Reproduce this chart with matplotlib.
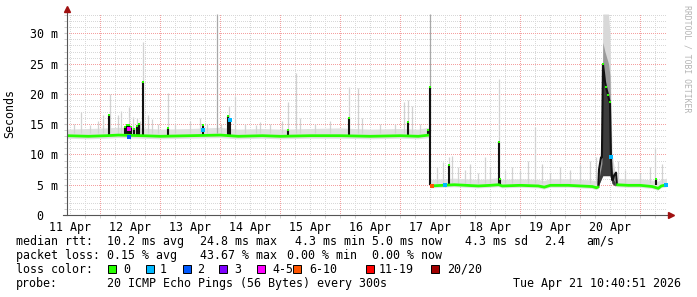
import matplotlib
matplotlib.use("Agg")
import matplotlib.pyplot as plt
from matplotlib.patches import Rectangle
import numpy as np

W, H = 697, 297
MONO = "DejaVu Sans Mono"

# x axis: days since 11 Apr 00:00 (window 11 Apr 10:40 -> 21 Apr 10:40)
x_start, x_end = 0.445, 10.445
y_top = 33.2

day_labels = ["11 Apr", "12 Apr", "13 Apr", "14 Apr", "15 Apr",
              "16 Apr", "17 Apr", "18 Apr", "19 Apr", "20 Apr"]
y_ticks = [0, 5, 10, 15, 20, 25, 30]
y_labels = ["0  ", "5 m", "10 m", "15 m", "20 m", "25 m", "30 m"]

# median rtt (ms) with smoke envelope; nan breaks the line
base_t = [0.445, 0.8, 1.1, 1.3, 1.7, 2.0, 2.5, 3.0, 3.3, 3.7, 4.0, 4.5, 5.0,
          5.5, 6.0, 6.3, 6.48, np.nan,
          6.51, 6.7, 6.9, 7.1, 7.3, 7.5, 7.64, 7.7, 8.0, 8.3, 8.4, 8.5, 8.8,
          9.0, 9.2, 9.27, 9.31, np.nan,
          9.6, 9.8, 10.0, 10.2, 10.3, 10.35, 10.445]
base_med = [13.1, 13.0, 13.1, 13.2, 13.1, 13.0, 13.1, 13.2, 13.0, 13.1, 13.0, 13.1, 13.1,
            13.0, 13.1, 13.0, 13.2, np.nan,
            4.8, 4.9, 5.0, 4.9, 4.8, 4.9, 5.0, 4.8, 4.9, 4.8, 4.6, 4.9, 4.9,
            4.8, 4.7, 4.5, 4.7, np.nan,
            5.0, 4.9, 4.9, 4.7, 4.4, 4.8, 5.0]
base_lo = [12.6, 12.5, 12.6, 12.7, 12.6, 12.5, 12.6, 12.7, 12.5, 12.6, 12.5, 12.6, 12.6,
           12.5, 12.6, 12.5, 12.7, np.nan,
           4.4, 4.5, 4.6, 4.5, 4.4, 4.5, 4.6, 4.4, 4.5, 4.4, 4.2, 4.5, 4.5,
           4.4, 4.3, 4.1, 4.3, np.nan,
           4.6, 4.5, 4.5, 4.3, 4.0, 4.4, 4.6]
base_hi = [14.1, 14.2, 14.3, 14.4, 14.3, 14.1, 14.2, 14.4, 14.1, 14.2, 14.1, 14.2, 14.3,
           14.1, 14.2, 14.1, 14.4, np.nan,
           5.8, 5.9, 6.0, 5.9, 5.8, 5.9, 6.1, 5.8, 5.9, 5.8, 5.6, 5.9, 5.9,
           5.8, 5.7, 5.6, 5.7, np.nan,
           6.0, 5.9, 5.9, 5.7, 5.5, 5.8, 6.0]

# median spikes: time, from, peak (ms)
spike_t = [1.145, 1.412, 1.445, 1.478, 1.512, 1.562, 1.612, 1.645, 1.712, 2.128,
           2.712, 3.128, 3.162, 4.128, 5.145, 6.128, 6.462, 6.495, 6.812, 7.645,
           7.662, 10.262]
spike_from = [13.1, 13.1, 13.1, 13.1, 13.1, 13.1, 13.1, 13.1, 13.1, 13.1,
              13.1, 13.1, 13.1, 13.1, 13.1, 13.1, 13.1, 4.9, 5.0, 5.0,
              5.0, 5.0]
spike_peak = [16.6, 14.5, 14.8, 14.8, 14.5, 14.2, 14.7, 15.0, 22.0, 14.4,
              14.9, 16.3, 15.5, 14.1, 16.1, 15.4, 14.1, 21.1, 8.3, 12.1,
              6.0, 6.0]

# smoke (max ping) spikes: time, from, top (ms)
smoke_t = [0.562, 0.678, 0.828, 0.962, 1.045, 1.16, 1.295, 1.345, 1.478, 1.545,
           1.612, 1.662, 1.712, 1.795, 1.862, 1.962, 2.128, 2.245, 2.495, 2.662,
           2.778, 2.945, 3.012, 3.145, 3.245, 3.412, 3.595, 3.662, 3.828, 4.028,
           4.128, 4.262, 4.328, 4.578, 4.828, 5.145, 5.295, 5.362, 5.662, 5.912,
           6.062, 6.128, 6.195, 6.328, 6.495,
           6.612, 6.712, 6.812, 6.862, 6.962, 7.078, 7.162, 7.295, 7.412, 7.495,
           7.645, 7.745, 7.862, 7.995, 8.128, 8.245, 8.362, 8.495, 8.662, 8.828,
           8.995, 9.162, 9.262, 9.628, 9.745, 9.995, 10.162, 10.245, 10.362]
smoke_from = [13.5] * 45 + [5.3] * 29
smoke_top = [15.0, 17.0, 14.8, 15.5, 16.5, 20.0, 16.5, 17.2, 17.9, 16.2,
             16.0, 15.5, 28.5, 16.5, 15.8, 15.0, 20.1, 15.0, 15.5, 16.0,
             15.0, 33.2, 15.0, 18.0, 19.6, 15.0, 14.8, 15.3, 15.0, 15.5,
             18.6, 23.5, 16.0, 15.0, 15.5, 21.2, 21.0, 16.0, 15.0, 15.0,
             18.6, 19.0, 18.0, 15.0, 33.2,
             8.0, 8.8, 9.5, 9.8, 8.0, 7.5, 8.5, 7.0, 9.5, 8.0,
             22.5, 7.5, 8.0, 7.5, 9.0, 14.6, 8.5, 7.0, 8.0, 7.5,
             8.5, 9.0, 9.5, 9.0, 7.5, 7.0, 8.0, 11.0, 8.5]

# 20 Apr latency event: ping distribution bands
event_t = [9.30, 9.33, 9.36, 9.375, 9.41, 9.44, 9.47, 9.495, 9.51, 9.53, 9.58]
event_lo = [4.8, 5.5, 6.2, 6.5, 6.5, 6.5, 6.5, 6.5, 6.0, 5.2, 4.8]
event_q1 = [5.4, 7.0, 8.5, 24.0, 22.0, 20.5, 19.5, 18.6, 9.5, 6.2, 5.4]
event_q2 = [5.8, 8.0, 10.0, 28.5, 27.0, 26.0, 25.0, 23.0, 13.0, 7.5, 6.0]
event_hi = [6.3, 10.0, 12.0, 33.2, 33.2, 33.2, 33.2, 30.0, 19.0, 10.0, 7.0]
event_med_t = [9.30, 9.312, 9.345, 9.36, 9.378, 9.395, 9.412, 9.428, 9.445, 9.462,
               9.478, 9.495, 9.51, 9.53, 9.545, 9.562, 9.595, 9.61]
event_med = [4.7, 7.5, 9.5, 9.5, 24.9, 23.5, 22.0, 21.2, 20.5, 19.9,
             19.1, 18.6, 9.6, 5.8, 5.8, 6.5, 7.0, 5.0]

# points with packet loss: time, rtt, lost pings
loss_t = [1.478, 1.47, 2.712, 3.162, 6.75, 6.53, 9.512, 10.42]
loss_v = [14.2, 12.9, 14.0, 15.7, 5.0, 4.8, 9.6, 4.9]
loss_n = [4, 2, 1, 1, 1, 8, 1, 1]

loss_names = ["0", "1", "2", "3", "4-5", "6-10", "11-19", "20/20"]
loss_upper = [0, 1, 2, 3, 5, 10, 19, 20]
loss_colors = ["#26ff00", "#00b8ff", "#0059ff", "#7e00ff",
               "#ff00ff", "#ff5500", "#ff0000", "#a00000"]


def loss_color(n):
    for up, c in zip(loss_upper, loss_colors):
        if n <= up:
            return c
    return loss_colors[-1]


fig = plt.figure(figsize=(W / 100, H / 100), dpi=100)
ax = fig.add_axes([67 / W, 1 - 215 / H, 600 / W, 201 / H])
ax.set_xlim(x_start, x_end)
ax.set_ylim(0, y_top)
for s in ax.spines.values():
    s.set_visible(False)

# dotted grid, 1px dots
grid_kw = dict(lw=0.72, ls=(0, (1, 1.4)), antialiased=False)
for d in np.arange(0.5, 10.45, 0.25):
    if abs(d - round(d)) > 0.01:
        ax.axvline(d, color="#d8d8d8", zorder=0, **grid_kw)
for v in range(1, 34):
    if v % 5:
        ax.axhline(v, color="#d8d8d8", zorder=0, **grid_kw)
for d in range(1, 11):
    ax.axvline(d, color="#f4a0a0", zorder=0.5, **grid_kw)
for v in range(5, 35, 5):
    ax.axhline(v, color="#f4a0a0", zorder=0.5, **grid_kw)

# smoke
ax.fill_between(base_t, base_lo, base_hi, color="#e0e0e0", lw=0, zorder=1)
for t, f, top in zip(smoke_t, smoke_from, smoke_top):
    c = "#a8a8a8" if top >= y_top else "#d2d2d2"
    ax.vlines(t, f, top, color=c, lw=0.9, zorder=1.2)
ax.fill_between(event_t, event_lo, event_hi, color="#d8d8d8", lw=0, zorder=1.3)
ax.fill_between(event_t, event_lo, event_q2, color="#9a9a9a", lw=0, zorder=1.4)
ax.fill_between(event_t, event_lo, event_q1, color="#3c3c3c", lw=0, zorder=1.5)

# median
ax.vlines(spike_t, spike_from, spike_peak, color="#111111", lw=1.5, zorder=2)
ax.plot(event_med_t, event_med, color="#111111", lw=1.5, zorder=2.1)
ax.plot(base_t, base_med, color=loss_colors[0], lw=2.0, zorder=3,
        solid_capstyle="butt")
ax.plot(spike_t, spike_peak, ls="none", marker="s", ms=2.0, mew=0,
        color=loss_colors[0], zorder=3.1)
ev_dots = [4, 7, 9, 11]
ax.plot([event_med_t[i] for i in ev_dots], [event_med[i] for i in ev_dots],
        ls="none", marker="s", ms=2.0, mew=0, color=loss_colors[0], zorder=3.1)
for t, v, n in zip(loss_t, loss_v, loss_n):
    ax.plot(t, v, ls="none", marker="s", ms=2.2, mew=0, color=loss_color(n),
            zorder=3.2)

# axes lines with arrows
ax.plot([x_start, x_start], [0, 33.9], color="#555555", lw=0.8, clip_on=False, zorder=4)
ax.plot([x_start - 0.07, 10.5], [0, 0], color="#555555", lw=0.8, clip_on=False, zorder=4)
ax.plot(x_start, 34.0, marker="^", ms=4, color="#a01010", clip_on=False, zorder=5)
ax.plot(10.52, 0, marker=">", ms=4, color="#a01010", clip_on=False, zorder=5)

# ticks and labels
ax.set_xticks([d + 0.5 for d in range(10)])
ax.set_xticklabels(day_labels, family=MONO, fontsize=8.4)
ax.set_xticks(np.arange(0.5, 10.45, 0.25), minor=True)
ax.tick_params(axis="x", which="major", length=0, pad=4)
ax.tick_params(axis="x", which="minor", length=2, color="#c8c8c8")
ax.set_yticks(y_ticks)
ax.set_yticklabels(y_labels, family=MONO, fontsize=8.4)
ax.set_yticks(range(0, 34), minor=True)
ax.tick_params(axis="y", which="both", length=2, color="#c8c8c8", pad=4.2)

fig.text(10 / W, 1 - 114 / H, "Seconds", rotation=90, ha="center", va="center",
         family=MONO, fontsize=8.4)
fig.text(687 / W, 1 - 5 / H, "RRDTOOL / TOBI OETIKER", rotation=270, ha="center",
         va="top", family=MONO, fontsize=5.9, color="#b4b4b4")

# legend
rows = [245, 259, 273, 287.5]
line1 = [(16, "median rtt:"), (107, "10.2 ms avg"), (200, "24.8 ms max"),
         (295, "4.3 ms min"), (372.5, "5.0 ms now"), (465, "4.3 ms sd"),
         (544, "2.4"), (586, "am/s")]
line2 = [(16, "packet loss:"), (107, "0.15 % avg"), (200, "43.67 % max"),
         (287, "0.00 % min"), (372.5, "0.00 % now")]
for row, items in ((rows[0], line1), (rows[1], line2)):
    for x, s in items:
        fig.text(x / W, 1 - row / H, s, family=MONO, fontsize=8.4, va="baseline")

fig.text(16 / W, 1 - rows[2] / H, "loss color:", family=MONO, fontsize=8.4, va="baseline")
box_x = [108, 146, 183, 219, 257, 293, 366, 431]
text_x = [123, 160, 197, 234, 272, 309, 379, 447]
for bx, tx, name, c in zip(box_x, text_x, loss_names, loss_colors):
    fig.patches.append(Rectangle((bx / W, 1 - 273 / H), 8 / W, 8 / H, facecolor=c,
                                 edgecolor="black", lw=0.7,
                                 transform=fig.transFigure, figure=fig))
    fig.text(tx / W, 1 - rows[2] / H, name, family=MONO, fontsize=8.4, va="baseline")

fig.text(16 / W, 1 - rows[3] / H, "probe:", family=MONO, fontsize=8.4, va="baseline")
fig.text(107 / W, 1 - rows[3] / H, "20 ICMP Echo Pings (56 Bytes) every 300s",
         family=MONO, fontsize=8.4, va="baseline")
fig.text(681 / W, 1 - rows[3] / H, "Tue Apr 21 10:40:51 2026", ha="right",
         family=MONO, fontsize=8.4, va="baseline")

fig.savefig("out.png", dpi=100, facecolor="white")
